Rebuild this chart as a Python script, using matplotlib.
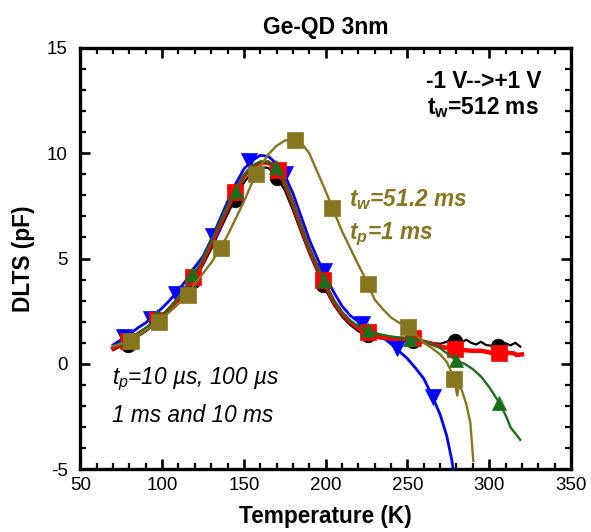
import matplotlib as mpl
import matplotlib.pyplot as plt
from matplotlib.ticker import MultipleLocator

# DLTS spectra, Ge-QD 3nm, pulse -1 V --> +1 V
# continuous traces: temperature (K) and signal (pF)
black_T = [70, 75, 80, 85, 90, 95, 100, 105, 110, 115, 120, 125, 130, 135, 140,
           145, 150, 155, 160, 165, 170, 175, 180, 185, 190, 195, 200, 205, 210,
           215, 220, 225, 230, 240, 250, 260, 265, 270, 274, 277, 280, 283, 286,
           289, 292, 295, 298, 302, 306, 310, 313, 316, 319]
black_V = [0.65, 0.85, 1.0, 1.3, 1.55, 1.85, 2.15, 2.55, 3.0, 3.5, 4.05, 4.7, 5.45,
           6.3, 7.1, 7.9, 8.6, 9.1, 9.35, 9.3, 8.9, 8.25, 7.3, 6.25, 5.25, 4.35,
           3.5, 2.8, 2.25, 1.85, 1.55, 1.35, 1.25, 1.15, 1.1, 1.05, 1.0, 0.95,
           1.05, 1.2, 1.1, 1.0, 1.15, 1.0, 0.92, 1.05, 0.9, 0.85, 0.88, 0.98,
           0.88, 1.0, 0.82]

red_T = [70, 75, 80, 85, 90, 95, 100, 105, 110, 115, 120, 125, 130, 135, 140, 145,
         150, 155, 160, 165, 170, 175, 180, 185, 190, 195, 200, 205, 210, 215, 220,
         225, 230, 240, 250, 255, 260, 265, 270, 275, 280, 285, 290, 295, 300, 305,
         309, 312, 315, 317, 320]
red_V = [0.75, 0.95, 1.15, 1.4, 1.65, 1.95, 2.25, 2.65, 3.1, 3.6, 4.2, 4.9, 5.7,
         6.55, 7.4, 8.25, 8.9, 9.35, 9.55, 9.55, 9.25, 8.6, 7.6, 6.5, 5.45, 4.55,
         3.7, 2.95, 2.4, 2.0, 1.7, 1.45, 1.3, 1.2, 1.2, 1.15, 1.05, 0.95, 0.82,
         0.75, 0.7, 0.65, 0.62, 0.62, 0.55, 0.45, 0.48, 0.52, 0.5, 0.42, 0.45]

green_T = [70, 75, 80, 85, 90, 95, 100, 105, 110, 115, 120, 125, 130, 135, 140, 145,
           150, 155, 160, 165, 170, 175, 180, 185, 190, 195, 200, 205, 210, 215,
           220, 225, 230, 240, 250, 255, 260, 265, 270, 275, 280, 285, 290, 295,
           300, 305, 308, 311, 313, 316, 319]
green_V = [0.8, 1.0, 1.2, 1.45, 1.7, 2.0, 2.3, 2.7, 3.15, 3.7, 4.3, 5.0, 5.8, 6.65,
           7.5, 8.3, 8.95, 9.4, 9.6, 9.6, 9.3, 8.65, 7.65, 6.55, 5.5, 4.6, 3.75,
           3.0, 2.45, 2.05, 1.8, 1.6, 1.45, 1.3, 1.2, 1.15, 1.05, 0.95, 0.75, 0.45,
           0.15, 0.0, -0.25, -0.6, -1.1, -1.7, -2.1, -2.6, -3.0, -3.3, -3.6]

blue_T = [70, 75, 80, 85, 90, 95, 100, 105, 110, 115, 120, 125, 130, 135, 140, 145,
          150, 155, 160, 165, 170, 175, 180, 185, 190, 195, 200, 205, 210, 215, 220,
          225, 230, 235, 240, 245, 250, 255, 260, 265, 270, 274, 277, 278]
blue_V = [0.9, 1.15, 1.4, 1.7, 1.95, 2.3, 2.65, 3.05, 3.5, 4.0, 4.6, 5.1, 5.9, 6.8,
          7.7, 8.55, 9.25, 9.65, 9.9, 9.85, 9.5, 8.95, 8.1, 7.0, 5.9, 5.0, 4.15,
          3.4, 2.75, 2.3, 2.0, 1.75, 1.5, 1.25, 0.95, 0.6, 0.25, -0.2, -0.7, -1.5,
          -2.4, -3.4, -4.5, -5.0]

olive_T = [70, 75, 80, 85, 90, 95, 100, 105, 110, 115, 120, 125, 130, 135, 140, 145,
           150, 155, 160, 165, 170, 175, 180, 185, 190, 195, 200, 205, 210, 215,
           220, 225, 230, 235, 240, 245, 250, 255, 260, 265, 270, 274, 277, 279,
           280.5, 281.5, 283, 286, 288.5, 289.5, 290.3]
olive_V = [0.85, 0.95, 1.1, 1.35, 1.6, 1.85, 2.15, 2.5, 2.85, 3.25, 3.8, 4.3, 4.8,
           5.4, 6.1, 6.9, 7.7, 8.6, 9.35, 9.95, 10.35, 10.6, 10.65, 10.5, 10.0,
           9.1, 8.2, 7.25, 6.3, 5.5, 4.7, 3.95, 3.05, 2.6, 2.2, 1.95, 1.78, 1.4,
           1.0, 0.75, 0.45, 0.1, -0.4, -0.9, -1.5, -1.0, -1.2, -1.9, -2.8, -3.8,
           -4.6]

# symbols along each trace
black_mT = [79, 97, 119, 144.3, 170.3, 198.5, 226, 253.5, 279.3, 305.5]
black_mV = [0.9, 2.0, 3.95, 7.8, 8.8, 3.75, 1.35, 1.1, 1.1, 0.85]
red_mT = [79, 97.1, 119, 144.3, 170.7, 198.2, 225.9, 253.7, 279.1, 305.9]
red_mV = [1.1, 2.06, 4.11, 8.15, 9.18, 3.99, 1.5, 1.25, 0.71, 0.5]
green_mT = [79, 97.1, 118.5, 144.9, 169.7, 198.8, 225.9, 251.6, 279.5, 305.9]
green_mV = [1.15, 2.25, 4.27, 8.23, 9.34, 3.96, 1.62, 1.19, 0.19, -1.85]
blue_mT = [76.8, 93.1, 108.3, 131.2, 153.0, 175.0, 198.8, 222.1, 243.5, 265.9]
blue_mV = [1.26, 2.14, 3.32, 6.09, 9.62, 9.02, 4.43, 1.90, 0.74, -1.59]
olive_mT = [80.9, 97.8, 115.9, 135.8, 157.7, 181.5, 203.9, 225.9, 250.2, 278.7]
olive_mV = [1.11, 2.01, 3.29, 5.49, 9.02, 10.64, 7.41, 3.80, 1.77, -0.71]

OLIVE = "#867620"
GREEN = "#1B6E1B"

mpl.rcParams.update({
    "font.family": ["Liberation Sans", "DejaVu Sans"],
    "axes.unicode_minus": False,
    "mathtext.fontset": "custom",
    "mathtext.rm": "Liberation Sans",
    "mathtext.it": "Liberation Sans:italic",
    "mathtext.bf": "Liberation Sans:bold",
    "mathtext.bfit": "Liberation Sans:italic:bold",
})

fig = plt.figure(figsize=(5.91, 5.32), dpi=100)
ax = fig.add_axes([0.136, 0.118, 0.830, 0.792])

series = [
    (black_T, black_V, black_mT, black_mV, "black", "o", 1.6, 10.5, 2),
    (blue_T, blue_V, blue_mT, blue_mV, "#0000FF", "v", 2.0, 11.5, 3),
    (red_T, red_V, red_mT, red_mV, "#FF0000", "s", 3.2, 11.0, 4),
    (green_T, green_V, green_mT, green_mV, GREEN, "^", 1.7, 10.5, 5),
    (olive_T, olive_V, olive_mT, olive_mV, OLIVE, "s", 1.7, 12.0, 6),
]
for T, V, mT, mV, col, mk, lw, ms, z in series:
    ax.plot(T, V, color=col, lw=lw, zorder=z)
    ax.plot(mT, mV, ls="none", marker=mk, ms=ms, color=col, mec=col, mew=0.5,
            zorder=z + 0.5)

ax.set_xlim(50, 350)
ax.set_ylim(-5, 15)
ax.xaxis.set_major_locator(MultipleLocator(50))
ax.xaxis.set_minor_locator(MultipleLocator(10))
ax.yaxis.set_major_locator(MultipleLocator(5))
ax.yaxis.set_minor_locator(MultipleLocator(1))

for sp in ax.spines.values():
    sp.set_linewidth(2.4)
ax.tick_params(which="both", direction="in", top=True, right=True, labelsize=13.5)
ax.tick_params(which="major", length=7, width=1.9)
ax.tick_params(which="minor", length=4, width=1.6)
ax.tick_params(axis="x", which="major", pad=5.5)
ax.tick_params(axis="y", which="major", pad=9)

ax.set_xlabel("Temperature (K)", fontsize=16.3, fontweight="bold")
ax.set_ylabel("DLTS (pF)", fontsize=16.3, fontweight="bold")
ax.xaxis.set_label_coords(0.5, -0.085)
ax.yaxis.set_label_coords(-0.092, 0.5)
ax.set_title("Ge-QD 3nm", fontsize=16.5, fontweight="bold", pad=10)

ax.text(296.8, 13.1, "-1 V-->+1 V", fontsize=16.3, fontweight="bold",
        ha="center", va="baseline")
ax.text(296.0, 11.87, r"$\mathbf{t_w}$=512 ms", fontsize=16.3, fontweight="bold",
        ha="center", va="baseline")

ax.text(214.2, 7.47, r"$\mathbfit{t_w}$=51.2 ms", fontsize=16.3, fontweight="bold",
        style="italic", color=OLIVE, ha="left", va="baseline")
ax.text(214.2, 5.93, r"$\mathbfit{t_p}$=1 ms", fontsize=16.3, fontweight="bold",
        style="italic", color=OLIVE, ha="left", va="baseline")

ax.text(69.1, -0.95, "$t_p$=10 µs, 100 µs", fontsize=16.3, style="italic",
        ha="left", va="baseline")
ax.text(69.1, -2.77, "1 ms and 10 ms", fontsize=16.3, style="italic",
        ha="left", va="baseline")

fig.savefig("out.png", dpi=100)
